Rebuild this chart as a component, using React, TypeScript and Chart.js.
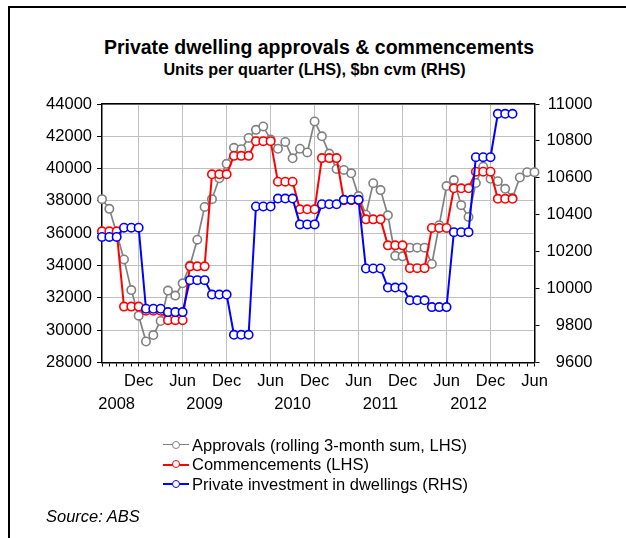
import React, { useEffect, useRef } from "react";
import { Chart, registerables } from "chart.js";

Chart.register(...registerables);

const months: string[] = [
  "Jul 2008", "Aug 2008", "Sep 2008", "Oct 2008", "Nov 2008", "Dec 2008",
  "Jan 2009", "Feb 2009", "Mar 2009", "Apr 2009", "May 2009", "Jun 2009",
  "Jul 2009", "Aug 2009", "Sep 2009", "Oct 2009", "Nov 2009", "Dec 2009",
  "Jan 2010", "Feb 2010", "Mar 2010", "Apr 2010", "May 2010", "Jun 2010",
  "Jul 2010", "Aug 2010", "Sep 2010", "Oct 2010", "Nov 2010", "Dec 2010",
  "Jan 2011", "Feb 2011", "Mar 2011", "Apr 2011", "May 2011", "Jun 2011",
  "Jul 2011", "Aug 2011", "Sep 2011", "Oct 2011", "Nov 2011", "Dec 2011",
  "Jan 2012", "Feb 2012", "Mar 2012", "Apr 2012", "May 2012", "Jun 2012",
  "Jul 2012", "Aug 2012", "Sep 2012", "Oct 2012", "Nov 2012", "Dec 2012",
  "Jan 2013", "Feb 2013", "Mar 2013", "Apr 2013", "May 2013", "Jun 2013",
];

const approvals: number[] = [
  38110, 37510, 36000, 34380, 32480, 30900, 29300, 29700, 30570, 32450,
  32140, 32900, 34000, 35600, 37630, 38110, 39400, 40300, 41290, 41200,
  41900, 42400, 42610, 41800, 41230, 41650, 40640, 41230, 41000, 42920,
  42000, 40930, 39980, 39920, 39710, 38300, 37150, 39100, 38670, 37110,
  34600, 34570, 35110, 35110, 35110, 34100, 36500, 38920, 39290, 37740,
  37010, 39110, 40120, 39370, 39220, 38750, 38200, 39450, 39780, 39780,
];

const commencements: (number | null)[] = [
  36120, 36120, 36120, 31460, 31460, 31460, 31200, 31200, 31200,
  30620, 30620, 30620, 33950, 33950, 33950, 39650, 39650, 39650,
  40790, 40790, 40790, 41700, 41700, 41700, 39190, 39190, 39190,
  37480, 37480, 37480, 40650, 40650, 40650, 38050, 38050, 38050,
  36860, 36860, 36860, 35250, 35250, 35250, 33840, 33840, 33840,
  36330, 36330, 36330, 38780, 38780, 38780, 39810, 39810, 39810,
  38130, 38130, 38130, null, null, null,
];

const investment: (number | null)[] = [
  10280, 10280, 10280, 10330, 10330, 10330, 9891, 9891, 9891,
  9873, 9873, 9873, 10046, 10046, 10046, 9968, 9968, 9968,
  9750, 9750, 9750, 10445, 10445, 10445, 10488, 10488, 10488,
  10348, 10348, 10348, 10457, 10457, 10457, 10481, 10481, 10481,
  10109, 10109, 10109, 10006, 10006, 10006, 9937, 9937, 9937,
  9900, 9900, 9900, 10306, 10306, 10306, 10712, 10712, 10712,
  10947, 10947, 10947, null, null, null,
];

const seriesNames = [
  "Approvals (rolling 3-month sum, LHS)",
  "Commencements (LHS)",
  "Private investment in dwellings (RHS)",
];
const seriesColors = ["#808080", "#ff0000", "#0000ff"];

const FONT = "'Liberation Sans', Arial, sans-serif";

function isMajor(i: number): boolean {
  const m = months[i] ? months[i].split(" ")[0] : "";
  return m === "Dec" || m === "Jun";
}

function tickText(i: number): string | string[] {
  const [m, y] = months[i].split(" ");
  if (m === "Dec" || m === "Jun") return m;
  if (m === "Sep") return ["", y];
  return "";
}

export default function App() {
  const ref = useRef<HTMLCanvasElement | null>(null);

  useEffect(() => {
    if (!ref.current) return;
    const mk = (idx: number, data: (number | null)[], axis: string, width: number, order: number) => ({
      label: seriesNames[idx],
      data,
      yAxisID: axis,
      borderColor: seriesColors[idx],
      borderWidth: width,
      pointRadius: 4.2,
      pointBorderWidth: 1.6,
      pointBorderColor: seriesColors[idx],
      pointBackgroundColor: "#ffffff",
      pointStyle: "circle" as const,
      tension: 0,
      spanGaps: false,
      order,
    });
    const chart = new Chart(ref.current, {
      type: "line",
      data: {
        labels: months,
        datasets: [
          mk(0, approvals, "y", 1.7, 3),
          mk(1, commencements, "y", 2, 2),
          mk(2, investment, "y1", 2, 1),
        ],
      },
      options: {
        responsive: false,
        animation: false,
        devicePixelRatio: 1,
        layout: { padding: { top: 104, left: 0, right: 33.5, bottom: 0 } },
        plugins: {
          legend: { display: false },
          title: { display: false },
          tooltip: { enabled: false },
        },
        scales: {
          x: {
            type: "category",
            position: "bottom",
            offset: false,
            grid: {
              color: (ctx: any) => (isMajor(ctx.index) ? "#c0c0c0" : "rgba(0,0,0,0)"),
              tickColor: "#000000",
              tickLength: 4,
              lineWidth: 1,
            },
            border: { color: "#000000", width: 1.5 },
            ticks: {
              autoSkip: false,
              maxRotation: 0,
              minRotation: 0,
              padding: 3,
              color: "#000000",
              font: { family: FONT, size: 16.5, lineHeight: 1.4 },
              callback: (_v: any, i: number) => tickText(i),
            },
            afterFit: (s: any) => {
              s.height = 538 - 362.5;
            },
          },
          xTop: {
            type: "category",
            position: "top",
            offset: false,
            grid: { display: false },
            border: { color: "#000000", width: 1.5 },
            ticks: { display: false },
            afterFit: (s: any) => {
              s.height = 0;
            },
          },
          y: {
            type: "linear",
            position: "left",
            min: 28000,
            max: 44000,
            grid: { color: "#c0c0c0", tickColor: "#000000", tickLength: 5, lineWidth: 1 },
            border: { color: "#000000", width: 1.5 },
            ticks: {
              stepSize: 2000,
              padding: 5,
              color: "#000000",
              font: { family: FONT, size: 16.5 },
              callback: (v: any) => String(v),
            },
            afterFit: (s: any) => {
              s.width = 102;
            },
          },
          y1: {
            type: "linear",
            position: "right",
            min: 9600,
            max: 11000,
            grid: { drawOnChartArea: false, tickColor: "#000000", tickLength: 5 },
            border: { color: "#000000", width: 1.5 },
            ticks: {
              stepSize: 200,
              padding: 6,
              crossAlign: "far",
              color: "#000000",
              font: { family: FONT, size: 16.5 },
              callback: (v: any) => String(v),
            },
            afterFit: (s: any) => {
              s.width = 592.5 - 534.5;
            },
          },
        },
      },
    });
    return () => chart.destroy();
  }, []);

  const legendTop = [445, 464.5, 484];

  return (
    <div
      style={{
        position: "fixed",
        left: 0,
        top: 0,
        width: 626,
        height: 538,
        overflow: "hidden",
        background: "#ffffff",
        fontFamily: FONT,
        color: "#000",
      }}
    >
      <div
        style={{
          position: "absolute",
          left: 8,
          top: 6,
          width: 700,
          height: 700,
          border: "2px solid #000",
          boxSizing: "border-box",
        }}
      />
      <div
        style={{
          position: "absolute",
          left: 0,
          width: 638,
          top: 35,
          lineHeight: "24px",
          fontSize: 19.5,
          fontWeight: "bold",
          textAlign: "center",
        }}
      >
        Private dwelling approvals &amp; commencements
      </div>
      <div
        style={{
          position: "absolute",
          left: 0,
          width: 629,
          top: 59,
          lineHeight: "20px",
          fontSize: 16.2,
          fontWeight: "bold",
          textAlign: "center",
        }}
      >
        Units per quarter (LHS), $bn cvm (RHS)
      </div>
      <canvas
        ref={ref}
        width={626}
        height={538}
        style={{ position: "absolute", left: 0, top: 0, width: 626, height: 538 }}
      />
      {seriesNames.map((name, i) => (
        <div
          key={name}
          style={{
            position: "absolute",
            left: 163,
            top: legendTop[i] - 10,
            height: 20,
            display: "flex",
            alignItems: "center",
            whiteSpace: "nowrap",
          }}
        >
          <div style={{ position: "relative", width: 26, height: 20 }}>
            <div
              style={{
                position: "absolute",
                left: 0,
                width: 26,
                top: 9,
                height: 0,
                borderTop: `${i === 0 ? 1.5 : 2}px solid ${seriesColors[i]}`,
              }}
            />
            <div
              style={{
                position: "absolute",
                left: 9,
                top: 5.5,
                width: 6,
                height: 6,
                borderRadius: "50%",
                border: `1.5px solid ${seriesColors[i]}`,
                background: "#fff",
              }}
            />
          </div>
          <span style={{ fontSize: 16.5, marginLeft: 3 }}>{name}</span>
        </div>
      ))}
      <div
        style={{
          position: "absolute",
          left: 46,
          top: 506,
          lineHeight: "20px",
          fontSize: 16.5,
          fontStyle: "italic",
        }}
      >
        Source: ABS
      </div>
    </div>
  );
}
